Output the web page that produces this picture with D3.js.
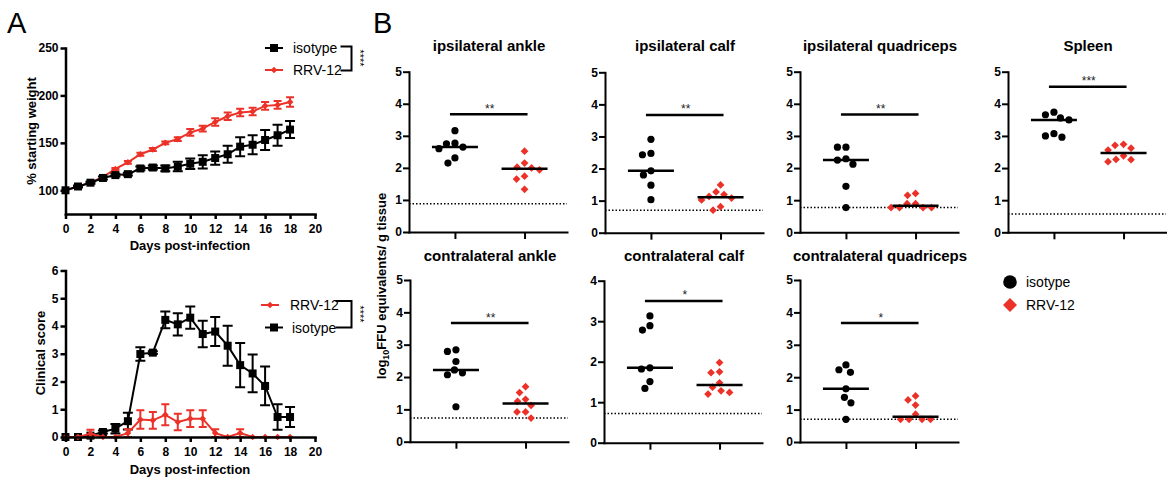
<!DOCTYPE html>
<html><head><meta charset="utf-8">
<script src="https://cdn.jsdelivr.net/npm/d3@7"></script>
<style>body{margin:0;background:#fff}svg{display:block}</style>
</head><body><svg id="c" width="1167" height="478"></svg>
<script>
// ---------------- DATA ----------------
const days = [0,1,2,3,4,5,6,7,8,9,10,11,12,13,14,15,16,17,18];
const dayTicks = [0,2,4,6,8,10,12,14,16,18,20];
const weightTicks = [100,150,200,250];
const scoreTicks = [0,1,2,3,4,5,6];
const groups = ["isotype","RRV-12"];

const weightIso    = [100,104,108,113,116,117,123,124,123,125,128,130,134,138,146,148,153,158,164];
const weightIsoSem = [0,1,1,1.5,1.5,1.5,2,2,3,5,5.5,7,7,9,10,10,10.5,11,9];
const weightRrv    = [100,104,108,114,122.5,129.5,138,143,150,154,161,165,172,178,182,183,189,190,193];
const weightRrvSem = [0,1,1,1,1,1.5,1.5,1.5,1.5,2,3.5,3,4,4,4,4,4,4,5];

const scoreIso    = [0,0,0.05,0.18,0.3,0.57,2.99,3.04,4.22,4.06,4.3,3.71,3.8,3.29,2.59,2.29,1.84,0.72,0.72];
const scoreIsoSem = [0,0,0,0.05,0.17,0.3,0.24,0.05,0.3,0.4,0.4,0.48,0.52,0.72,0.8,0.68,0.7,0.46,0.36];
const scoreRrv    = [0,0,0.12,0,0,0.14,0.63,0.6,0.8,0.54,0.66,0.66,0.14,0,0.14,0,0,0,0];
const scoreRrvSem = [0,0,0.14,0,0,0.14,0.33,0.3,0.38,0.3,0.3,0.3,0.14,0,0.14,0,0,0,0];

const tissues = ["ipsilateral ankle","ipsilateral calf","ipsilateral quadriceps","Spleen",
                 "contralateral ankle","contralateral calf","contralateral quadriceps"];
const isoValues = [
  [3.16,2.77,2.65,2.60,2.75,2.31,2.15],
  [2.91,2.47,2.43,1.93,1.80,1.48,1.03],
  [2.65,2.65,2.29,2.25,2.12,1.43,0.77],
  [3.74,3.56,3.50,3.66,3.07,2.96,3.00],
  [2.84,2.79,2.48,2.22,2.13,2.07,1.08],
  [3.13,2.89,2.78,1.85,1.82,1.51,1.34],
  [2.38,2.23,2.15,1.64,1.38,1.21,0.70]
];
const rrvValues = [
  [2.52,2.15,2.00,1.94,2.02,1.74,1.65,1.33],
  [1.49,1.27,1.19,1.13,1.08,1.02,0.81,0.70],
  [1.21,1.15,0.89,0.89,0.77,0.77,0.77,0.77],
  [2.74,2.62,2.56,2.71,2.38,2.27,2.20,2.26],
  [1.70,1.52,1.31,1.25,1.12,0.92,0.92,0.73],
  [1.98,1.75,1.73,1.48,1.37,1.28,1.24,1.20],
  [1.42,1.30,1.14,0.86,0.70,0.70,0.70,0.70]
];
const detectionLimits = [0.88,0.70,0.77,0.57,0.73,0.72,0.70];
const sigLevels = [3.67,3.67,3.67,4.53,3.67,3.5,3.67];
const sigLabels = ["**","**","**","***","**","*","*"];
const yMaxes = [5,5,5,5,5,4,5];

// ---------------- DRAW ----------------
const F = '"Liberation Sans", Arial, Helvetica, sans-serif';
const RED = '#ec3228';
const svg = d3.select('#c');
svg.append('rect').attr('width',1167).attr('height',478).attr('fill','#fff');

function styleAxis(g, sw, fs){
  g.select('.domain').attr('stroke','#000').attr('stroke-width',sw).attr('stroke-linecap','square');
  g.selectAll('.tick line').attr('stroke','#000').attr('stroke-width',sw);
  g.selectAll('.tick text').attr('font-family',F).attr('font-weight','bold')
    .attr('font-size',fs).attr('fill','#000');
}
function txt(x,y,s,opt={}){
  const t = svg.append('text').attr('x',x).attr('y',y).text(s)
    .attr('font-family',F).attr('font-size',opt.size||13)
    .attr('font-weight',opt.weight||'normal').attr('fill',opt.fill||'#000')
    .attr('text-anchor',opt.anchor||'start');
  if(opt.rotate!==undefined) t.attr('transform',`rotate(${opt.rotate},${x},${y})`);
  return t;
}

txt(7,33,'A',{size:29});
txt(373,33,'B',{size:29});

// ----- Panel A -----
const xA = d3.scaleLinear([0,20],[65.5,315]);
function drawSeries(g, x, y, vals, errs, color, kind, capW){
  g.append('path').datum(vals)
    .attr('d', d3.line().x((d,i)=>x(days[i])).y(d=>y(d)))
    .attr('fill','none').attr('stroke',color).attr('stroke-width',2);
  vals.forEach((v,i)=>{
    if(errs[i]>0){
      const cx = x(days[i]), y1 = y(v+errs[i]), y2 = y(v-errs[i]);
      g.append('path').attr('d',`M${cx},${y1}V${y2}M${cx-capW/2},${y1}h${capW}M${cx-capW/2},${y2}h${capW}`)
        .attr('stroke',color).attr('stroke-width',2).attr('fill','none');
    }
  });
  g.selectAll(null).data(vals).join('path')
    .attr('transform',(d,i)=>`translate(${x(days[i])},${y(d)})${kind==='diamond'?' rotate(45)':''}`)
    .attr('d', d3.symbol(d3.symbolSquare, kind==='diamond'?22:64)())
    .attr('fill',color);
}
function legendItem(x1,x2,y,color,kind,label,tx){
  svg.append('line').attr('x1',x1).attr('x2',x2).attr('y1',y).attr('y2',y)
    .attr('stroke',color).attr('stroke-width',2);
  svg.append('path').attr('transform',`translate(${(x1+x2)/2},${y})${kind==='diamond'?' rotate(45)':''}`)
    .attr('d', d3.symbol(d3.symbolSquare, kind==='diamond'?22:64)()).attr('fill',color);
  txt(tx,y+5,label,{size:14});
}
function bracket(x,y1,y2,w,stars,sy){
  svg.append('path').attr('d',`M${x-w},${y1}H${x}V${y2}H${x-w}`)
    .attr('fill','none').attr('stroke','#000').attr('stroke-width',2);
  txt(x+4,sy,stars,{size:11,anchor:'middle',rotate:90});
}

// top: weight
{
  const y = d3.scaleLinear([75,250],[214,48]);
  const g = svg.append('g');
  drawSeries(g, xA, y, weightRrv, weightRrvSem, RED, 'diamond', 8);
  drawSeries(g, xA, y, weightIso, weightIsoSem, '#000', 'square', 10);
  const ya = svg.append('g').attr('transform','translate(65.5,0)')
    .call(d3.axisLeft(y).tickValues(weightTicks).tickFormat(d3.format('d')).tickSize(5).tickSizeOuter(0).tickPadding(2));
  styleAxis(ya,2.5,12);
  const xa = svg.append('g').attr('transform','translate(0,214)')
    .call(d3.axisBottom(xA).tickValues(dayTicks).tickFormat(d3.format('d')).tickSize(5).tickSizeOuter(0).tickPadding(5));
  styleAxis(xa,2.5,12);
  txt(190,250,'Days post-infection',{size:13,weight:'bold',anchor:'middle'});
  txt(36,131,'% starting weight',{size:13,weight:'bold',anchor:'middle',rotate:-90});
  legendItem(265,283,48,'#000','square',groups[0],293);
  legendItem(265,283,70,RED,'diamond',groups[1],293);
  bracket(351.5,46.5,70.5,11,'****',58);
}
// bottom: clinical score
{
  const y = d3.scaleLinear([0,6],[437,270.5]);
  const g = svg.append('g');
  drawSeries(g, xA, y, scoreIso, scoreIsoSem, '#000', 'square', 10);
  drawSeries(g, xA, y, scoreRrv, scoreRrvSem, RED, 'diamond', 8);
  const ya = svg.append('g').attr('transform','translate(65.5,0)')
    .call(d3.axisLeft(y).tickValues(scoreTicks).tickFormat(d3.format('d')).tickSize(5).tickSizeOuter(0).tickPadding(2));
  styleAxis(ya,2.5,12);
  const xa = svg.append('g').attr('transform','translate(0,437)')
    .call(d3.axisBottom(xA).tickValues(dayTicks).tickFormat(d3.format('d')).tickSize(5).tickSizeOuter(0).tickPadding(5));
  styleAxis(xa,2.5,12);
  txt(190,474,'Days post-infection',{size:13,weight:'bold',anchor:'middle'});
  txt(45,353,'Clinical score',{size:13,weight:'bold',anchor:'middle',rotate:-90});
  legendItem(261,279,305,RED,'diamond',groups[1],290);
  legendItem(265,283,327.5,'#000','square',groups[0],292);
  bracket(351.5,301,327.5,16,'****',314);
}

// ----- Panel B -----
const panelX = [409,605,800,1008,410,604,800];
const panelTop = [71.7,72.3,71.7,71.7,280,280.7,280];
const panelBot = [232,232.7,232.3,232.3,441.7,442.7,442];
const titleY = [51,51,51,51,261,261,261];
const panelW = 158;

function swarm(vals, y, cx, dist){
  const pts = vals.map(v=>({v, y:y(v), x:cx}));
  const order = pts.slice().sort((a,b)=>a.y-b.y);
  const placed = [];
  for(const p of order){
    for(let k=0;k<400;k++){
      const off = (k%2===1? -1:1)*Math.ceil(k/2)*0.5;
      const px = cx+off;
      if(placed.every(q=>Math.hypot(q.x-px,q.y-p.y)>=dist)){ p.x=px; break; }
    }
    placed.push(p);
  }
  return pts;
}

tissues.forEach((name,i)=>{
  const x0 = panelX[i];
  const x = d3.scaleLinear([-0.66,1.61],[x0,x0+panelW]);
  const y = d3.scaleLinear([0,yMaxes[i]],[panelBot[i],panelTop[i]]);
  const g = svg.append('g');
  g.append('line').attr('x1',x0).attr('x2',x0+panelW).attr('y1',y(detectionLimits[i])).attr('y2',y(detectionLimits[i]))
    .attr('stroke','#000').attr('stroke-width',1.5).attr('stroke-dasharray','1.5,2');
  const ya = svg.append('g').attr('transform',`translate(${x0},0)`)
    .call(d3.axisLeft(y).ticks(yMaxes[i]).tickFormat(d3.format('d')).tickSize(6).tickSizeOuter(0).tickPadding(1));
  styleAxis(ya,2,12);
  const xa = svg.append('g').attr('transform',`translate(0,${panelBot[i]})`)
    .call(d3.axisBottom(x).tickValues([0,1]).tickFormat('').tickSize(7).tickSizeOuter(0));
  styleAxis(xa,2,12);
  const iso = swarm(isoValues[i], y, x(0), 8.5);
  const rrv = swarm(rrvValues[i], y, x(1), 8.2);
  g.selectAll(null).data(iso).join('circle').attr('cx',d=>d.x).attr('cy',d=>d.y).attr('r',3.6).attr('fill','#000');
  g.selectAll(null).data(rrv).join('path')
    .attr('transform',d=>`translate(${d.x},${d.y}) rotate(45)`)
    .attr('d',d3.symbol(d3.symbolSquare,30)()).attr('fill',RED);
  [[isoValues[i],0],[rrvValues[i],1]].forEach(([vals,k])=>{
    const m = d3.median(vals);
    g.append('line').attr('x1',x(k)-23).attr('x2',x(k)+23).attr('y1',y(m)).attr('y2',y(m))
      .attr('stroke','#000').attr('stroke-width',2.5);
  });
  const sy = y(sigLevels[i]);
  g.append('line').attr('x1',x(0)-5).attr('x2',x(1)+3).attr('y1',sy).attr('y2',sy)
    .attr('stroke','#000').attr('stroke-width',2.5);
  txt((x(0)+x(1))/2, sy-1.5, sigLabels[i], {size:12,anchor:'middle',fill:'#222'});
  txt(x0+80, titleY[i], name, {size:15,weight:'bold',anchor:'middle'});
});

{
  const t = svg.append('text').attr('transform','translate(386,286) rotate(-90)')
    .attr('text-anchor','middle').attr('font-family',F).attr('font-weight','bold').attr('font-size',13).attr('fill','#000');
  t.append('tspan').text('log');
  t.append('tspan').text('10').attr('font-size',9).attr('dy',3);
  t.append('tspan').text('FFU equivalents/ g tissue').attr('dy',-3);
}
svg.append('circle').attr('cx',1010).attr('cy',282).attr('r',6.8).attr('fill','#000');
svg.append('path').attr('transform','translate(1010,305) rotate(45)')
  .attr('d',d3.symbol(d3.symbolSquare,98)()).attr('fill',RED);
txt(1026,287,groups[0],{size:14});
txt(1026,310,groups[1],{size:14});
</script>
</body></html>
